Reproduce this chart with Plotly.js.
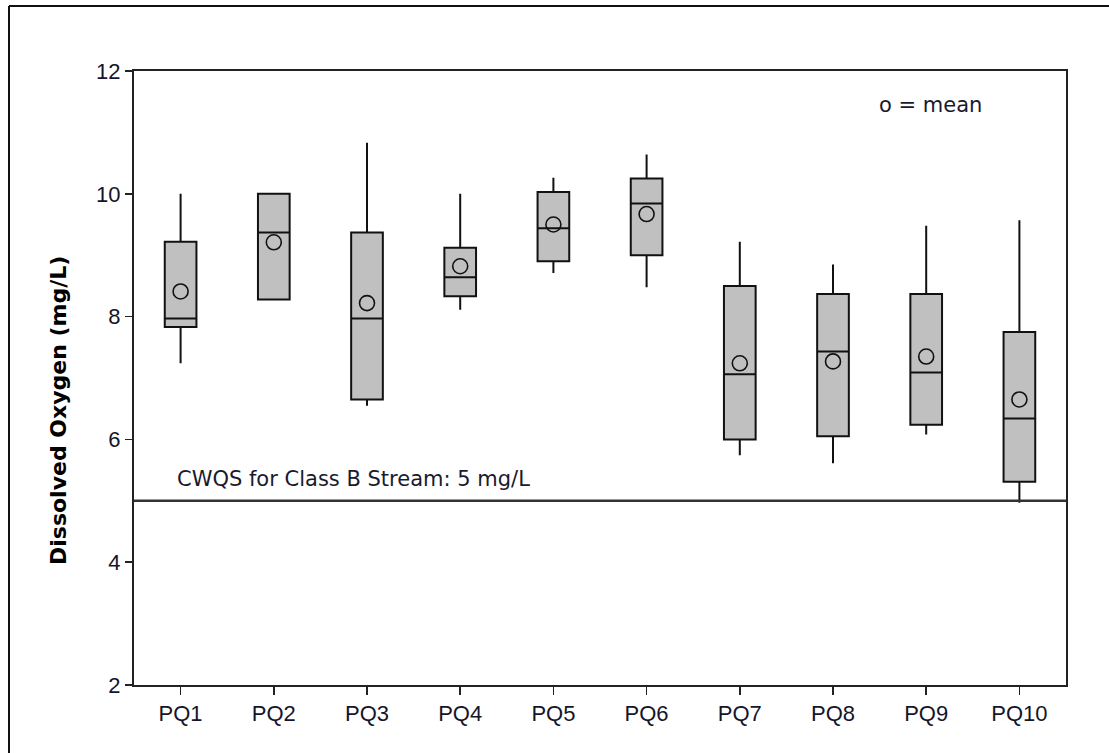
<!DOCTYPE html>
<html>
<head>
<meta charset="utf-8">
<script src="https://cdn.plot.ly/plotly-3.0.1.min.js"></script>
<style>
  html, body { margin: 0; padding: 0; background: #fff; }
  #chart { width: 1109px; height: 753px; }
</style>
</head>
<body>
<div id="chart"></div>
<script>
// ---- Data ----
const sites = ["PQ1", "PQ2", "PQ3", "PQ4", "PQ5", "PQ6", "PQ7", "PQ8", "PQ9", "PQ10"];
const whiskerLow  = [7.24, 8.28, 6.55, 8.11, 8.71, 8.48, 5.74, 5.61, 6.08, 4.97];
const q1Values    = [7.83, 8.28, 6.65, 8.33, 8.90, 9.00, 6.00, 6.05, 6.24, 5.31];
const medians     = [7.97, 9.37, 7.97, 8.64, 9.44, 9.84, 7.06, 7.43, 7.09, 6.34];
const q3Values    = [9.22, 10.00, 9.37, 9.12, 10.03, 10.25, 8.50, 8.37, 8.37, 7.75];
const whiskerHigh = [10.00, 10.00, 10.83, 10.00, 10.26, 10.64, 9.22, 8.85, 9.48, 9.57];
const means       = [8.41, 9.21, 8.22, 8.82, 9.50, 9.67, 7.24, 7.27, 7.35, 6.65];
const standardValue = 5;
const standardLabel = "CWQS for Class B Stream: 5 mg/L";
const yTickValues = [2, 4, 6, 8, 10, 12];
const yAxisTitle = "Dissolved Oxygen (mg/L)";
const meanNote = "o = mean";

// ---- Layout geometry (pixels) ----
const W = 1109, H = 753;
const L = 134, R = 1066, T = 71, B = 685;
const pw = R - L, ph = B - T;
const px = x => (x - L) / pw;
const py = y => (B - y) / ph;

const boxTrace = {
  type: "box",
  x: sites,
  q1: q1Values,
  median: medians,
  q3: q3Values,
  lowerfence: whiskerLow,
  upperfence: whiskerHigh,
  boxpoints: false,
  width: 0.34,
  whiskerwidth: 0,
  fillcolor: "#c0c0c0",
  line: { color: "#111111", width: 2 },
  hoverinfo: "skip",
  showlegend: false
};

const meanTrace = {
  type: "scatter",
  mode: "markers",
  x: sites,
  y: means,
  marker: { symbol: "circle-open", size: 15, color: "#111111", line: { width: 1.6, color: "#111111" } },
  hoverinfo: "skip",
  showlegend: false
};

const tickFont = { family: "Liberation Sans, Arial, sans-serif", size: 22, color: "#15152a" };

const layout = {
  width: W, height: H,
  margin: { l: L, r: W - R, t: T, b: H - B, pad: 0 },
  paper_bgcolor: "#ffffff",
  plot_bgcolor: "#ffffff",
  showlegend: false,
  xaxis: {
    type: "category",
    range: [-0.5, 9.5],
    showgrid: false, zeroline: false,
    showline: true, mirror: true, linecolor: "#222222", linewidth: 2,
    ticks: "outside", ticklen: 8, tickwidth: 1.5, tickcolor: "#222222",
    tickfont: tickFont,
    fixedrange: true
  },
  yaxis: {
    range: [2, 12],
    tickvals: yTickValues,
    ticktext: yTickValues.map(String),
    showgrid: false, zeroline: false,
    showline: true, mirror: true, linecolor: "#222222", linewidth: 2,
    ticks: "outside", ticklen: 7, tickwidth: 1.5, tickcolor: "#222222",
    tickfont: tickFont,
    fixedrange: true
  },
  shapes: [
    { type: "line", xref: "paper", yref: "y", x0: 0, x1: 1, y0: standardValue, y1: standardValue,
      line: { color: "#333333", width: 2.5 }, layer: "above" },
    // outer frame (left and top edges only)
    { type: "line", xref: "paper", yref: "paper", x0: px(9), x1: px(9), y0: py(6), y1: py(760),
      line: { color: "#111111", width: 2 } },
    { type: "line", xref: "paper", yref: "paper", x0: px(9), x1: px(1115), y0: py(6), y1: py(6),
      line: { color: "#111111", width: 2 } }
  ],
  annotations: [
    { text: standardLabel, xref: "paper", yref: "y", x: px(175), y: standardValue,
      xanchor: "left", yanchor: "middle", yshift: 22, showarrow: false,
      font: { family: "DejaVu Sans, Verdana, sans-serif", size: 21, color: "#1a1a2e" } },
    { text: meanNote, xref: "paper", yref: "paper", x: px(930), y: py(105),
      xanchor: "center", yanchor: "middle", showarrow: false,
      font: { family: "DejaVu Sans, Verdana, sans-serif", size: 21, color: "#1a1a2e" } },
    { text: yAxisTitle, xref: "paper", yref: "paper", x: px(58), y: py(411),
      xanchor: "center", yanchor: "middle", textangle: -90, showarrow: false,
      font: { family: "DejaVu Sans, Verdana, sans-serif", size: 22, color: "#000000", weight: "bold" } }
  ]
};

Plotly.newPlot("chart", [boxTrace, meanTrace], layout, { displayModeBar: false, staticPlot: true });
</script>
</body>
</html>
